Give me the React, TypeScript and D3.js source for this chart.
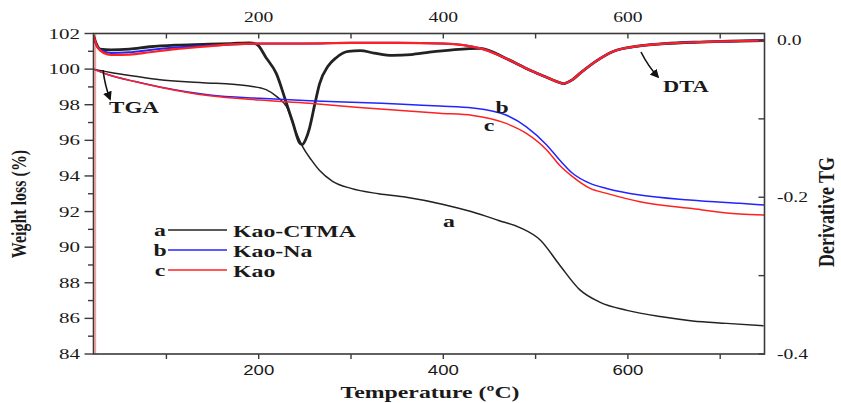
import { useEffect, useRef } from "react";
import * as d3 from "d3";

// TGA curves: [temperature °C, weight %]
const kaoCtmaTga: [number, number][] = [
  [21, 100.0], [38, 99.83], [66, 99.6], [93, 99.4], [136, 99.25], [190, 99.05],
  [208, 98.85], [221, 98.4], [230, 97.9], [241, 96.4], [248, 95.6], [257, 94.9],
  [266, 94.3], [280, 93.7], [300, 93.3], [330, 93.0], [360, 92.8], [400, 92.4],
  [430, 92.0], [460, 91.5], [483, 91.1], [505, 90.4], [526, 89.0], [548, 87.6],
  [570, 86.9], [599, 86.45], [635, 86.1], [670, 85.86], [707, 85.72], [747, 85.58],
];
const kaoNaTga: [number, number][] = [
  [21, 100.0], [38, 99.67], [66, 99.3], [93, 99.0], [147, 98.55], [201, 98.36],
  [255, 98.22], [309, 98.13], [396, 97.93], [432, 97.82], [468, 97.42], [490, 96.76],
  [512, 95.74], [526, 94.9], [540, 94.15], [559, 93.58], [577, 93.3], [613, 92.93],
  [667, 92.65], [721, 92.46], [748, 92.37],
];
const kaoTga: [number, number][] = [
  [21, 100.0], [38, 99.67], [66, 99.3], [93, 98.98], [147, 98.5], [201, 98.26],
  [255, 98.08], [309, 97.85], [396, 97.52], [432, 97.4], [468, 96.95], [490, 96.39],
  [512, 95.46], [526, 94.6], [540, 93.96], [559, 93.3], [577, 93.02], [613, 92.55],
  [667, 92.18], [721, 91.86], [748, 91.8],
];

// DTA / derivative curves: [temperature °C, derivative]
const kaoCtmaDta: [number, number][] = [
  [21, 0.006], [24, -0.004], [28, -0.011], [40, -0.012], [60, -0.011], [82, -0.008],
  [110, -0.006], [140, -0.005], [170, -0.004], [190, -0.003], [198, -0.005],
  [208, -0.022], [219, -0.042], [230, -0.08], [237, -0.105], [244, -0.13],
  [247, -0.133], [251, -0.126], [255, -0.112], [261, -0.08], [266, -0.055],
  [275, -0.033], [284, -0.022], [297, -0.014], [310, -0.013], [325, -0.016],
  [345, -0.019], [365, -0.018], [385, -0.015], [410, -0.012], [440, -0.01],
  [468, -0.023], [494, -0.038], [510, -0.046], [523, -0.0525], [530, -0.055],
  [540, -0.05], [548, -0.042], [566, -0.026], [584, -0.014], [613, -0.007],
  [640, -0.004], [678, -0.002], [710, -0.001], [748, 0.0],
];
const kaoNaDta: [number, number][] = [
  [21, 0.006], [25, -0.008], [32, -0.014], [40, -0.016], [60, -0.015], [82, -0.012],
  [110, -0.009], [140, -0.007], [170, -0.005], [200, -0.004], [250, -0.004],
  [300, -0.003], [350, -0.003], [400, -0.004], [440, -0.01], [468, -0.023],
  [494, -0.038], [510, -0.046], [523, -0.0525], [530, -0.055], [540, -0.05],
  [548, -0.042], [566, -0.026], [584, -0.014], [613, -0.007], [640, -0.004],
  [678, -0.002], [710, -0.001], [748, 0.0],
];
const kaoDta: [number, number][] = [
  [21, 0.006], [25, -0.008], [32, -0.016],
  [40, -0.0185], [60, -0.018], [82, -0.015], [110, -0.011], [140, -0.008],
  [170, -0.005], [200, -0.004], [250, -0.004], [300, -0.003], [350, -0.003],
  [400, -0.004], [440, -0.01], [468, -0.023], [494, -0.038], [510, -0.046],
  [523, -0.0525], [530, -0.055], [540, -0.05], [548, -0.042], [566, -0.026],
  [584, -0.014], [613, -0.007], [640, -0.004], [678, -0.002], [710, -0.001],
  [748, 0.0],
];
// start-up spike of the Kao derivative signal (runs off the bottom of the axis)
const kaoDtaSpike: [number, number][] = [
  [23, 0.01], [23, -0.45],
];

const tempTicks = [100, 200, 300, 400, 500, 600, 700];
const tempLabels = [200, 400, 600];
const weightTicks = d3.range(84, 103, 1);
const derivTicks = [0, -0.1, -0.2, -0.3, -0.4];
const derivLabels = [0, -0.2, -0.4];

const legendKeys = ["a", "b", "c"];
const legendNames = ["Kao-CTMA", "Kao-Na", "Kao"];
const colors = ["#222222", "#2424ff", "#ff2020"];

const SX = 1.4; // the original figure is stretched horizontally
const SERIF = "'Liberation Serif', 'Times New Roman', serif";
const SANS = "'Liberation Sans', Arial, sans-serif";

export default function App() {
  const svgRef = useRef<SVGSVGElement>(null);

  useEffect(() => {
    if (!svgRef.current) return;
    const svg = d3.select(svgRef.current);
    svg.selectAll("*").remove();

    const left = 93.5, right = 764.5, top = 33.5, bottom = 354;
    const x = d3.scaleLinear().domain([21, 748]).range([left, right]);
    const yL = d3.scaleLinear().domain([84, 102]).range([bottom, top]);
    const yR = d3.scaleLinear().domain([-0.4, 0.0089]).range([bottom, top]);

    const axisColor = "#3a3a3a";

    const text = (
      g: d3.Selection<any, unknown, null, undefined>,
      tx: number,
      ty: number,
      s: string,
      opts: { size: number; weight?: string; family?: string; anchor?: string; rotate?: number; sx?: number },
    ) => {
      const sx = opts.sx ?? SX;
      g.append("text")
        .attr("transform", `translate(${tx},${ty}) scale(${sx},1)${opts.rotate ? ` rotate(${opts.rotate})` : ""}`)
        .attr("text-anchor", opts.anchor ?? "middle")
        .style("font-family", opts.family ?? SERIF)
        .style("font-size", `${opts.size}px`)
        .style("font-weight", opts.weight ?? "normal")
        .style("fill", "#1a1a1a")
        .text(s);
    };

    const defs = svg.append("defs");
    defs.append("clipPath")
      .attr("id", "plot-clip")
      .append("rect")
      .attr("x", left)
      .attr("y", top)
      .attr("width", right - left)
      .attr("height", bottom - top);

    defs.append("marker")
      .attr("id", "arrow")
      .attr("viewBox", "0 0 10 10")
      .attr("refX", 8)
      .attr("refY", 5)
      .attr("markerWidth", 9)
      .attr("markerHeight", 9)
      .attr("markerUnits", "userSpaceOnUse")
      .attr("orient", "auto")
      .append("path")
      .attr("d", "M0,0 L10,5 L0,10 z")
      .attr("fill", "#111");

    const plot = svg.append("g").attr("clip-path", "url(#plot-clip)");

    const tgaLine = d3
      .line<[number, number]>()
      .x((d) => x(d[0]))
      .y((d) => yL(d[1]))
      .curve(d3.curveMonotoneX);
    const dtaLine = d3
      .line<[number, number]>()
      .x((d) => x(d[0]))
      .y((d) => yR(d[1]))
      .curve(d3.curveMonotoneX);

    // pale start-up spike
    plot.append("path")
      .datum(kaoDtaSpike)
      .attr("fill", "none")
      .attr("stroke", "#ff9a9a")
      .attr("stroke-width", 1.6)
      .attr("d", d3.line<[number, number]>().x((d) => x(d[0])).y((d) => yR(d[1])));

    // DTA curves (right axis)
    [kaoCtmaDta, kaoNaDta, kaoDta].forEach((s, i) => {
      plot.append("path")
        .datum(s)
        .attr("fill", "none")
        .attr("stroke", colors[i])
        .attr("stroke-width", i === 0 ? 2.8 : i === 1 ? 2 : 2.2)
        .attr("stroke-linejoin", "round")
        .attr("d", dtaLine);
    });

    // TGA curves (left axis)
    [kaoCtmaTga, kaoNaTga, kaoTga].forEach((s, i) => {
      plot.append("path")
        .datum(s)
        .attr("fill", "none")
        .attr("stroke", colors[i])
        .attr("stroke-width", 1.5)
        .attr("d", tgaLine);
    });

    // Frame
    svg.append("rect")
      .attr("x", left)
      .attr("y", top)
      .attr("width", right - left)
      .attr("height", bottom - top)
      .attr("fill", "none")
      .attr("stroke", axisColor)
      .attr("stroke-width", 1.6);

    const axes = svg.append("g").attr("stroke", axisColor).attr("stroke-width", 1.4);

    // left ticks (outward)
    weightTicks.forEach((v) => {
      const major = v % 2 === 0;
      axes.append("line")
        .attr("x1", left - (major ? 9 : 5.5))
        .attr("x2", left)
        .attr("y1", yL(v))
        .attr("y2", yL(v));
    });
    // bottom ticks (outward) and top ticks (inward)
    tempTicks.forEach((t) => {
      axes.append("line").attr("x1", x(t)).attr("x2", x(t)).attr("y1", bottom).attr("y2", bottom + 5);
      axes.append("line").attr("x1", x(t)).attr("x2", x(t)).attr("y1", top).attr("y2", top + 5);
    });
    // right ticks (inward)
    derivTicks.forEach((v) => {
      axes.append("line").attr("x1", right - 6).attr("x2", right).attr("y1", yR(v)).attr("y2", yR(v));
    });

    const labels = svg.append("g");
    weightTicks
      .filter((v) => v % 2 === 0)
      .forEach((v) => text(labels, 80, yL(v) + 5, String(v), { size: 15, anchor: "end" }));
    tempLabels.forEach((t) => {
      text(labels, x(t), 375, String(t), { size: 14, family: SANS, sx: 1.33 });
      text(labels, x(t), 22, String(t), { size: 14 });
    });
    derivLabels.forEach((v) =>
      text(labels, 777, yR(v) + 5, d3.format(".1f")(v).replace("−", "-"), { size: 14, anchor: "start" }),
    );

    // axis titles
    text(labels, 430, 398, "Temperature (ºC)", { size: 17, weight: "bold" });
    text(labels, 26, 204, "Weight loss (%)", { size: 16, weight: "bold", rotate: -90, sx: 1.35 });
    text(labels, 834, 212, "Derivative TG", { size: 18, weight: "bold", rotate: -90, sx: 1.3 });

    // legend
    const lg = svg.append("g");
    legendKeys.forEach((k, i) => {
      const cy = 230 + i * 20;
      text(lg, 160, cy + 6, k, { size: 17, weight: "bold" });
      lg.append("line")
        .attr("x1", 168)
        .attr("x2", 227)
        .attr("y1", cy)
        .attr("y2", cy)
        .attr("stroke", colors[i])
        .attr("stroke-width", 1.5);
      text(lg, 233, cy + 6.5, legendNames[i], { size: 17, weight: "bold", anchor: "start" });
    });

    // curve annotations
    text(labels, 449, 227, "a", { size: 17, weight: "bold" });
    text(labels, 502, 113, "b", { size: 17, weight: "bold" });
    text(labels, 489, 131, "c", { size: 17, weight: "bold" });
    text(labels, 109, 113, "TGA", { size: 16.5, weight: "bold", anchor: "start" });
    text(labels, 663, 92, "DTA", { size: 16, weight: "bold", anchor: "start" });

    const arrows = svg.append("g")
      .attr("fill", "none")
      .attr("stroke", "#111")
      .attr("stroke-width", 1.6);
    arrows.append("path")
      .attr("d", "M103,70 Q105,86 110,99")
      .attr("marker-end", "url(#arrow)");
    arrows.append("path")
      .attr("d", "M641,52 Q648,66 658,77")
      .attr("marker-end", "url(#arrow)");
  }, []);

  return (
    <svg
      ref={svgRef}
      width={841}
      height={403}
      style={{ position: "absolute", left: 0, top: 0, background: "#fff" }}
    />
  );
}
